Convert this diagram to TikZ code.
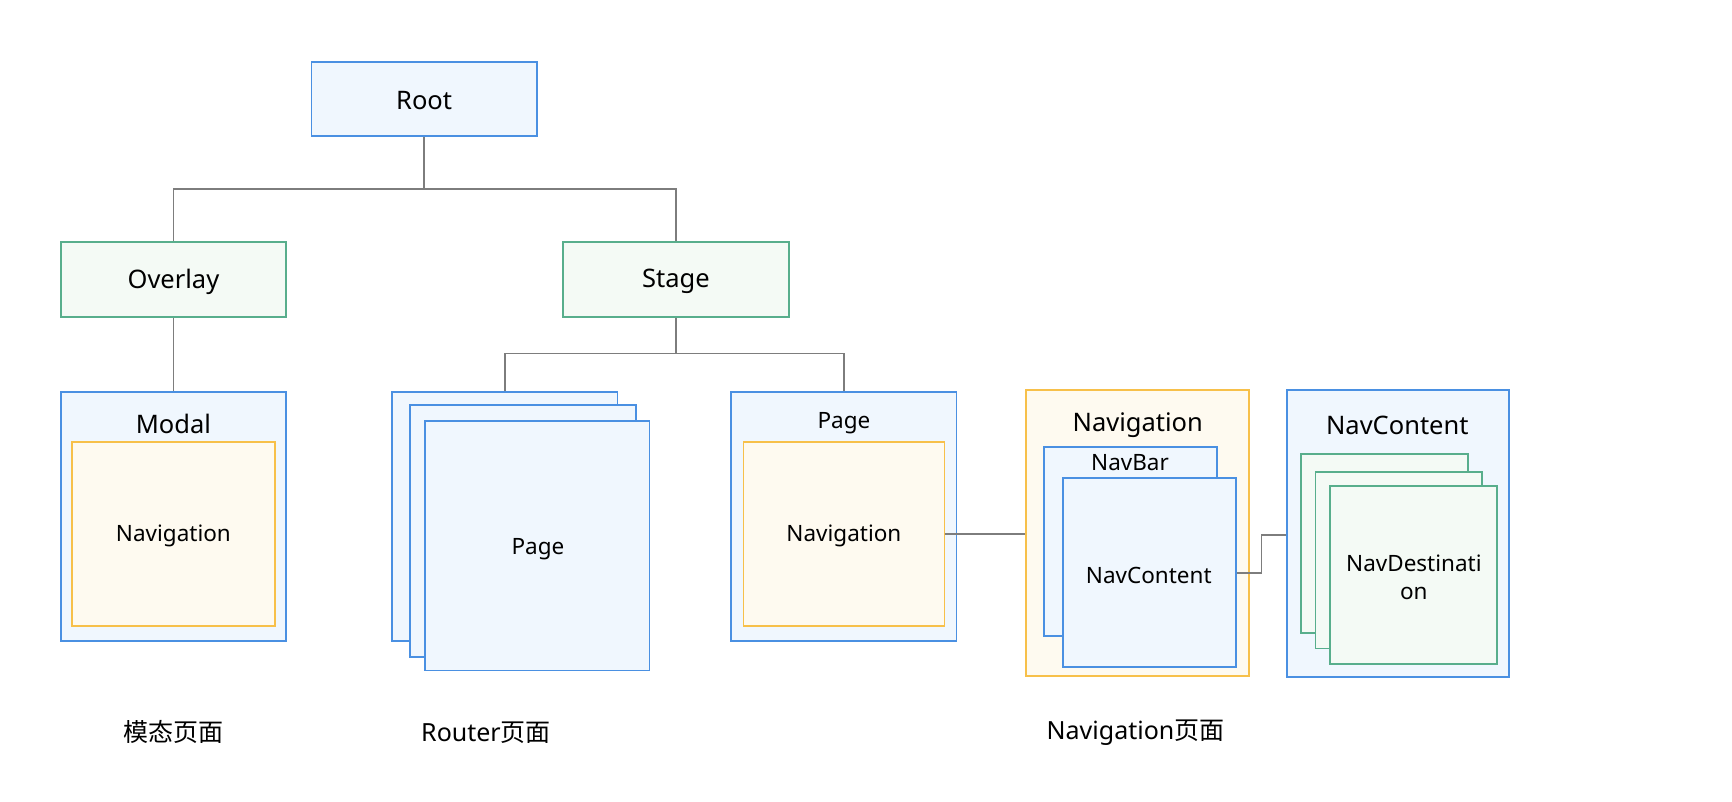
\documentclass[tikz,border=0pt]{standalone}
\usepackage{fontspec}
\setmainfont{Noto Sans}
\newfontfamily\cjk{Noto Sans CJK SC}
\usetikzlibrary{fit}
\definecolor{bblue}{RGB}{74,144,226}
\definecolor{fblue}{RGB}{240,247,254}
\definecolor{bgreen}{RGB}{88,174,140}
\definecolor{fgreen}{RGB}{244,250,245}
\definecolor{byellow}{RGB}{247,192,74}
\definecolor{fyellow}{RGB}{254,250,240}
\definecolor{lgray}{RGB}{125,125,125}
\tikzset{
  bbox/.style={draw=bblue,fill=fblue,line width=1.8pt,inner sep=0pt},
  gbox/.style={draw=bgreen,fill=fgreen,line width=1.8pt,inner sep=0pt},
  ybox/.style={draw=byellow,fill=fyellow,line width=1.8pt,inner sep=0pt},
  big/.style={font=\fontsize{25.5}{30}\selectfont,inner sep=0pt,yshift=-2pt},
  small/.style={font=\fontsize{22.5}{28}\selectfont,inner sep=0pt,align=center,yshift=-2pt},
  captext/.style={font=\fontsize{25}{30}\selectfont,inner sep=0pt},
  conn/.style={draw=lgray,line width=1.8pt}
}
\begin{document}
\begin{tikzpicture}[x=1.1046pt,y=-1.1046pt]
\useasboundingbox[fill=white] (0,0) rectangle (1568,726);
% Root level
\node[bbox,fit={(282,56)(486,123)}] (root) {};
\node[big] (rootT) at (root.center) {Root};
\node[gbox,fit={(55,219)(259,287)}] (overlay) {};
\node[big] (overlayT) at (overlay.center) {Overlay};
\node[gbox,fit={(510,219)(714,287)}] (stage) {};
\node[big] (stageT) at (stage.center) {Stage};
\coordinate (j1) at (384,171);
\draw[conn] (root.south) -- (j1) -| (overlay.north);
\draw[conn] (j1) -| (stage.north);
% Modal
\node[bbox,fit={(55,355)(259,580)}] (modal) {};
\node[big] (modalT) at (157,382) {Modal};
\node[ybox,fit={(65,400)(249,567)}] (mnav) {};
\node[small] (mnavT) at (mnav.center) {Navigation};
\draw[conn] (overlay.south) -- (modal.north);
% Router pages
\node[bbox,fit={(355,355)(559,580)}] (p1) {};
\node[bbox,fit={(371,367)(576,595)}] (p2) {};
\node[bbox,fit={(385,381)(588,607)}] (p3) {};
\node[small] (p3T) at (487,495) {Page};
% Page with navigation
\node[bbox,fit={(662,355)(866,580)}] (page) {};
\node[small] (pageT) at (764,381) {Page};
\node[ybox,fit={(673,400)(855,567)}] (pnav) {};
\node[small] (pnavT) at (pnav.center) {Navigation};
\coordinate (j2) at (612,320);
\draw[conn] (stage.south) -- (j2) -| (p1.north);
\draw[conn] (j2) -| (page.north);
% Navigation
\node[ybox,fit={(929,353)(1131,612)}] (nav) {};
\node[big] (navT) at (1030,383) {Navigation};
\node[bbox,fit={(945,405)(1102,576)}] (navbar) {};
\node[small] (navbarT) at (1023,417) {NavBar};
\node[bbox,fit={(962,433)(1119,604)}] (navc) {};
\node[small] (navcT) at (1040,519) {NavContent};
\draw[conn] (pnav.east) -- (nav.west |- pnav.east);
% NavContent
\node[bbox,fit={(1165,353)(1366,613)}] (nc) {};
\node[big] (ncT) at (1265,383) {NavContent};
\node[gbox,fit={(1178,411)(1329,573)}] (d1) {};
\node[gbox,fit={(1191,427)(1342,587)}] (d2) {};
\node[gbox,fit={(1204,440)(1355,601)}] (d3) {};
\node[small] (d3T) at (1280,521) {NavDestinati\\on};
\coordinate (j3) at (1142,519);
\coordinate (j4) at (1142,484);
\draw[conn] (navc.east |- j3) -- (j3) -- (j4) -- (nc.west |- j4);
% captions
\node[captext] (c1) at (157,663) {\cjk 模态页面};
\node[captext] (c2) at (440,663) {Router\cjk 页面};
\node[captext] (c3) at (1028,663) {Navigation\cjk 页面};
\end{tikzpicture}
\end{document}
